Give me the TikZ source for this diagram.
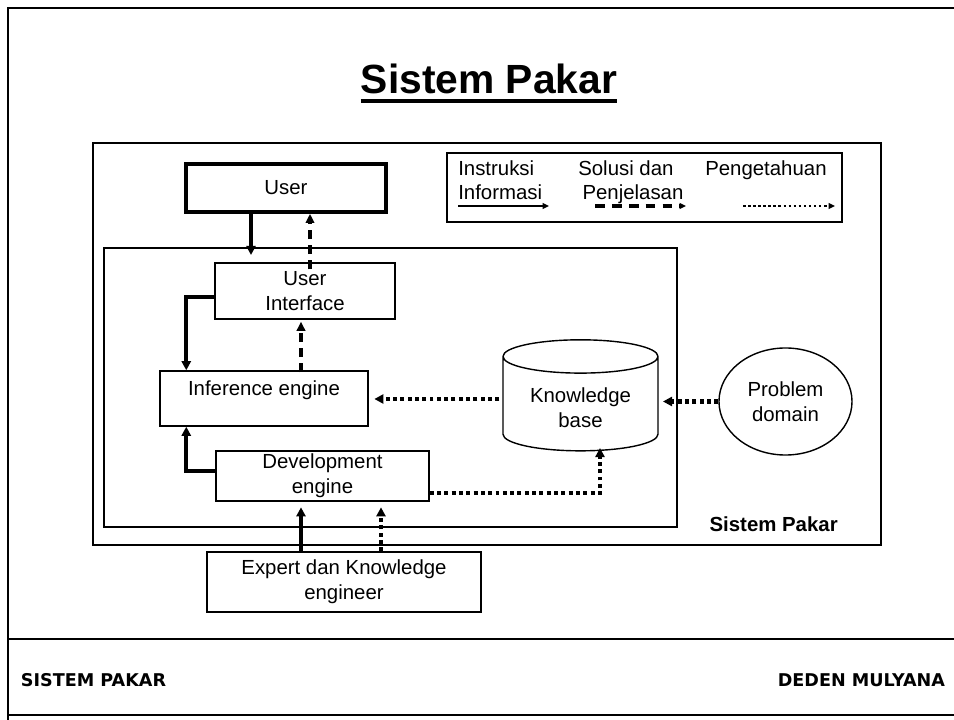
\documentclass[tikz,border=0pt]{standalone}
\usepackage{fontspec}
\setmainfont{Liberation Sans}
\newfontfamily\footfont{DejaVu Sans}
\usetikzlibrary{shapes.geometric, arrows.meta, positioning, calc}

\tikzset{
  isi/.style={font=\fontsize{14.5}{17.7}\selectfont, align=center, inner sep=0pt},
  kotak/.style={isi, draw, line width=1pt},
  panah/.style={line width=3pt, -{Triangle[length=6.5pt, width=6.5pt]}},
  putus/.style={line width=2.2pt, dash pattern=on 6.4pt off 4.3pt, -{Triangle[length=6.5pt, width=6pt]}},
  titik/.style={line width=3pt, dash pattern=on 2.8pt off 2.4pt, -{Triangle[length=6.5pt, width=6.5pt]}},
}

\begin{document}
\begin{tikzpicture}[x=0.025cm, y=-0.025cm]
        \useasboundingbox (0,0) rectangle (954,720);
        % Bingkai halaman
        \draw[line width=1.7pt] (8,720) -- (8,8) -- (954,8);
        \draw[line width=1.2pt] (8,639) -- (954,639);
        \draw[line width=1.2pt] (8,715) -- (954,715);
        \node[font=\footfont\bfseries\fontsize{12.5}{15}\selectfont, anchor=base west] (kaki1) at (16,686) {SISTEM PAKAR};
        \node[font=\footfont\bfseries\fontsize{12.5}{15}\selectfont, anchor=base east] (kaki2) at (950,686) {DEDEN MULYANA};

        % Judul
        \node[font=\fontsize{29}{34}\selectfont\bfseries, anchor=base, inner sep=0pt] (judul) at (489,94) {Sistem Pakar};
        \draw[line width=3pt] ($(judul.base west)+(0,7)$) -- ($(judul.base east)+(0,7)$);

        % Kotak sistem
        \draw[line width=1pt] (93,143) rectangle (881,545);
        \draw[line width=1pt] (104,248) rectangle (677,527);
        \node[isi, font=\fontsize{14.5}{17.7}\selectfont\bfseries, anchor=base east] (sp) at (838,532) {Sistem Pakar};

        % Keterangan
        \draw[line width=1pt] (447,153) rectangle (842,222);
        \node[isi, align=left, anchor=north west] (k1) at (458,160) {Instruksi\\Informasi};
        \node[isi, align=left, anchor=north west] (k2) at (578,160) {Solusi dan\\\hspace{3pt}Penjelasan};
        \node[isi, anchor=north west] (k3) at (705,160) {Pengetahuan};
        \coordinate (a1) at (458,206); \coordinate (b1) at (549,206);
        \coordinate (a2) at (595,206); \coordinate (b2) at (686,206);
        \coordinate (a3) at (743,206); \coordinate (b3) at (835,206);
        \draw[line width=1.8pt, -{Triangle[length=4.5pt, width=4pt]}] (a1) -- (b1);
        \draw[line width=2.4pt, dash pattern=on 7pt off 5pt, -{Triangle[length=4.5pt, width=4pt]}] (a2) -- (b2);
        \draw[line width=1.8pt, dash pattern=on 1.8pt off 1.8pt, -{Triangle[length=4.5pt, width=4pt]}] (a3) -- (b3);

        % Komponen
        \node[kotak, line width=2.6pt, minimum width=5cm, minimum height=1.2cm] (user) at (286,188) {User};
        \node[kotak, minimum width=4.5cm, minimum height=1.4cm] (ui) at (305,291) {User\\Interface};
        \node[kotak, minimum width=5.2cm, minimum height=1.375cm, text height=10pt, text depth=14pt] (inf) at (264,398.5) {Inference engine};
        \node[kotak, minimum width=5.325cm, minimum height=1.25cm] (dev) at (322.5,476) {Development\\engine};
        \node[kotak, minimum width=6.85cm, minimum height=1.5cm] (exp) at (344,582) {Expert dan Knowledge\\engineer};
        \node[kotak, cylinder, shape border rotate=90, aspect=0.33, minimum width=3.875cm, minimum height=2.775cm] (kb) at (580.5,404) {\phantom{Knowledge}\\\phantom{base}};
        \node[isi] (kbteks) at (580.5,408) {Knowledge\\base};
        \node[kotak, ellipse, minimum width=3.325cm, minimum height=2.675cm] (pd) at (785.5,401.5) {Problem\\domain};

        % Aliran
        \coordinate (masuk) at (251,255);
        \draw[panah] (user.south -| masuk) -- (masuk);
        \coordinate (uiA) at ($(ui.north)+(5,7)$);
        \draw[putus] (uiA) -- (uiA |- user.south);
        \draw[panah] ($(ui.west)+(0,6)$) -| ($(inf.north west)+(27,0)$);
        \coordinate (infA) at ($(inf.north)+(37,2)$);
        \draw[putus] (infA) -- ($(infA |- ui.south)+(0,2)$);
        \draw[titik, shorten >=4pt] ($(kb.west)+(-3,-5)$) -- ($(inf.east |- kb.west)+(0,-5)$);
        \draw[titik, shorten >=3pt] (pd.west) -- (pd.west -| kb.east);
        \draw[panah] ($(dev.west)+(0,-5)$) -| ($(inf.south west)+(27,0)$);
        \coordinate (kbB) at (600,448);
        \draw[titik] ($(dev.east)+(0,17)$) -| (kbB);
        \draw[panah, shorten >=4pt] ($(exp.north)+(-43,0)$) -- ($(exp.north |- dev.south)+(-43,0)$);
        \draw[titik, shorten >=4pt] ($(exp.north)+(37,0)$) -- ($(exp.north |- dev.south)+(37,0)$);
\end{tikzpicture}
\end{document}
